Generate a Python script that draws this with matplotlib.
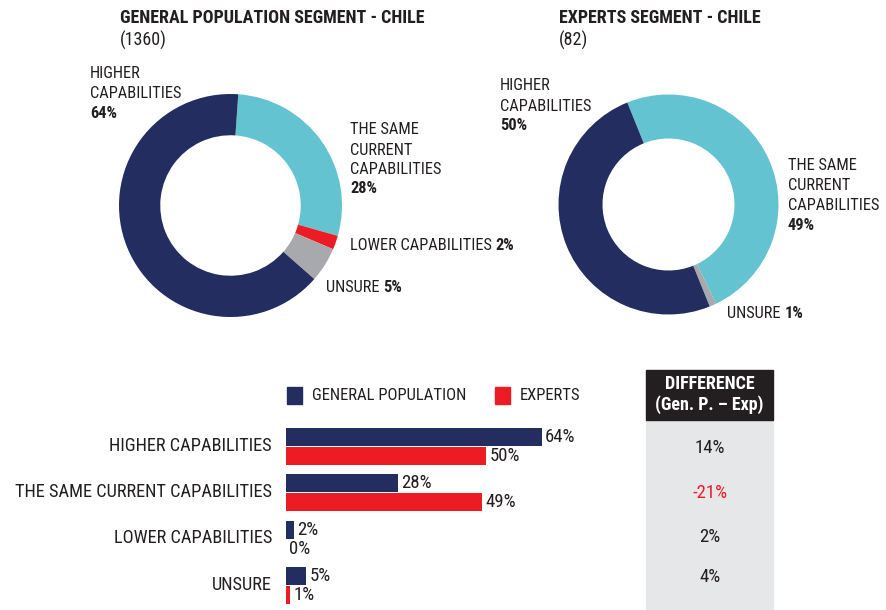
import matplotlib
matplotlib.use("Agg")
import matplotlib.pyplot as plt
from matplotlib import font_manager

W, H = 886, 610
DPI = 100

installed = {f.name for f in font_manager.fontManager.ttflist}
FONT = next((f for f in ["Roboto Condensed", "Archivo Narrow", "Barlow Semi Condensed",
                         "Liberation Sans"] if f in installed), "DejaVu Sans")
plt.rcParams["font.family"] = [FONT, "DejaVu Sans"]

# --- data ---
categories = ["HIGHER CAPABILITIES", "THE SAME CURRENT CAPABILITIES",
              "LOWER CAPABILITIES", "UNSURE"]
general = [64, 28, 2, 5]
experts = [50, 49, 0, 1]
general_n = 1360
experts_n = 82
difference = [14, -21, 2, 4]

NAVY = "#232d5f"
CYAN = "#63c3d1"
RED = "#ed1c24"
GREY = "#a7a9ac"
TXT = "#231f20"
PANEL = "#e6e7e8"

fig = plt.figure(figsize=(W / DPI, H / DPI), dpi=DPI)


def box(x0, y0, x1, y1):
    """Axes rectangle from pixel coordinates (origin top-left)."""
    return [x0 / W, 1 - y1 / H, (x1 - x0) / W, (y1 - y0) / H]


def ptext(x, y, s, **kw):
    kw.setdefault("color", TXT)
    kw.setdefault("va", "center")
    kw.setdefault("ha", "left")
    return fig.text(x / W, 1 - y / H, s, **kw)


# --- donuts ---
# slices drawn clockwise: same, lower, unsure, higher
order = [1, 2, 3, 0]
colors = [CYAN, RED, GREY, NAVY]


def donut(cx, cy, r, values, start, width):
    ax = fig.add_axes(box(cx - r, cy - r, cx + r, cy + r))
    vals = [values[i] for i in order]
    ax.pie(vals, colors=colors, startangle=start, counterclock=False,
           radius=1, wedgeprops=dict(width=width, edgecolor="none", linewidth=0))
    ax.set_xlim(-1, 1)
    ax.set_ylim(-1, 1)
    ax.set_aspect("equal")
    ax.axis("off")
    return ax


donut(230.5, 205.5, 111.5, general, 86, 0.37)
donut(668.5, 204.5, 110, experts, 112, 0.40)

TFS = 13
# donut titles
ptext(120, 18, "GENERAL POPULATION SEGMENT - CHILE", fontsize=TFS, fontweight="bold")
ptext(120, 40, f"({general_n})", fontsize=TFS)
ptext(559, 18, "EXPERTS SEGMENT - CHILE", fontsize=TFS, fontweight="bold")
ptext(559, 40, f"({experts_n})", fontsize=TFS)

LS = 20  # line step for stacked labels (px)
FS = 11.8


def stacked(x, y, lines, value):
    for k, ln in enumerate(lines):
        ptext(x, y + k * LS, ln, fontsize=FS)
    ptext(x, y + len(lines) * LS - 1, f"{value}%", fontsize=FS, fontweight="bold")


def inline(x, y, label, value):
    t = ptext(x, y, label + " ", fontsize=FS)
    fig.canvas.draw()
    bb = t.get_window_extent()
    ptext(x + bb.width, y, f"{value}%", fontsize=FS, fontweight="bold")


stacked(90, 74, ["HIGHER", "CAPABILITIES"], general[0])
stacked(350, 130, ["THE SAME", "CURRENT", "CAPABILITIES"], general[1])
inline(350, 245, "LOWER CAPABILITIES", general[2])
inline(326, 288, "UNSURE", general[3])

stacked(500, 86, ["HIGHER", "CAPABILITIES"], experts[0])
stacked(788, 166, ["THE SAME", "CURRENT", "CAPABILITIES"], experts[1])
inline(727, 314, "UNSURE", experts[3])

# --- grouped bars ---
bx = fig.add_axes(box(286, 420, 646, 610))
n = len(categories)
pos = list(range(n))
off, bh = 0.205, 0.39
bx.barh([p - off for p in pos], general, height=bh, color=NAVY)
bx.barh([p + off for p in pos], experts, height=bh, color=RED)
bx.set_xlim(0, 90)
bx.set_ylim(3.53, -0.572)
VFS = 13.5
for p, g, e in zip(pos, general, experts):
    bx.text(g + 0.8, p - off, f"{g}%", va="center", ha="left", fontsize=VFS, color=TXT)
    bx.text(e + 0.8, p + off, f"{e}%", va="center", ha="left", fontsize=VFS, color=TXT)
bx.set_xticks([])
bx.set_yticks([p - 0.06 for p in pos])
bx.set_yticklabels(categories, fontsize=13.2, color=TXT)
bx.tick_params(axis="y", length=0, pad=10)
for s in bx.spines.values():
    s.set_visible(False)
bx.patch.set_alpha(0)

# legend
fig.patches.append(plt.Rectangle((287 / W, 1 - 404 / H), 15 / W, 17 / H,
                                 transform=fig.transFigure, color=NAVY))
ptext(312, 396, "GENERAL POPULATION", fontsize=12)
fig.patches.append(plt.Rectangle((495 / W, 1 - 404 / H), 15 / W, 17 / H,
                                 transform=fig.transFigure, color=RED))
ptext(520, 396, "EXPERTS", fontsize=12)

# difference column
fig.patches.append(plt.Rectangle((646 / W, 0), 127 / W, 1 - 420 / H,
                                 transform=fig.transFigure, color=PANEL, zorder=0))
fig.patches.append(plt.Rectangle((646 / W, 1 - 420 / H), 127 / W, 50 / H,
                                 transform=fig.transFigure, color=TXT, zorder=0))
ptext(709.5, 384, "DIFFERENCE", fontsize=13, fontweight="bold", color="white", ha="center")
ptext(709.5, 405, "(Gen. P. \u2013 Exp)", fontsize=13, fontweight="bold", color="white", ha="center")
for y, d in zip([448, 493, 537, 577], difference):
    ptext(710, y, f"{d}%", fontsize=13.5, ha="center", color=RED if d < 0 else TXT)

fig.savefig("out.png", dpi=DPI)
